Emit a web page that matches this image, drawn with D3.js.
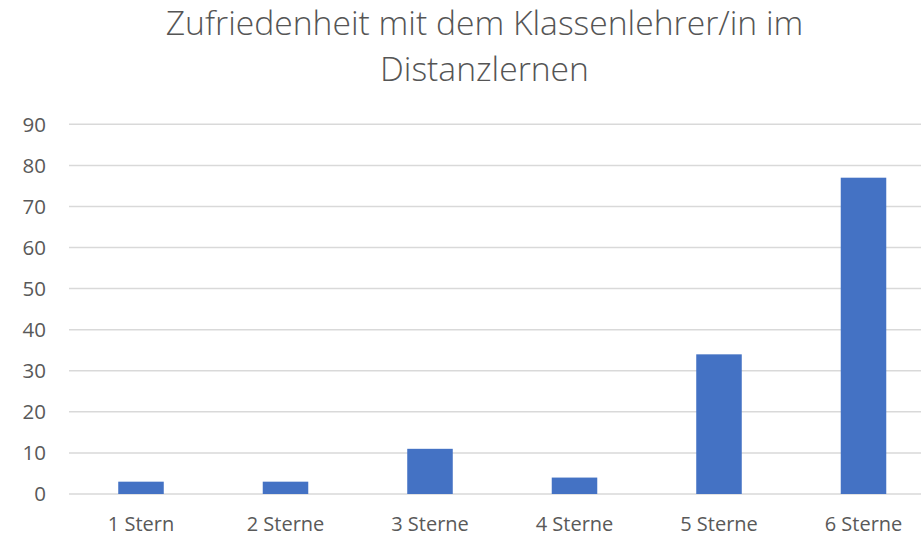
<!DOCTYPE html>
<html><head><meta charset="utf-8">
<script src="https://cdn.jsdelivr.net/npm/d3@7"></script>
<style>html,body{margin:0;padding:0;background:#fff;overflow:hidden}</style>
</head><body>
<svg id="chart" width="921" height="536"></svg>
<script>
const categories = ["1 Stern", "2 Sterne", "3 Sterne", "4 Sterne", "5 Sterne", "6 Sterne"];
const values = [3, 3, 11, 4, 34, 77];
const yTicks = [0, 10, 20, 30, 40, 50, 60, 70, 80, 90];
const titleLines = ["Zufriedenheit mit dem Klassenlehrer/in im", "Distanzlernen"];

const svg = d3.select("#chart");
const font = "'Open Sans', 'Noto Sans', sans-serif";
const x = d3.scaleBand().domain(categories).range([68.75, 935.75]).paddingInner(0.685).paddingOuter(0.3425);
const y = d3.scaleLinear().domain([0, 90]).range([494, 124.3]);

// gridlines
svg.append("g").selectAll("line").data(yTicks).join("line")
  .attr("x1", 69).attr("x2", 921)
  .attr("y1", d => y(d)).attr("y2", d => y(d))
  .attr("stroke", "#d9d9d9").attr("stroke-width", 1.5);

// y labels
svg.append("g").selectAll("text").data(yTicks).join("text")
  .attr("x", 46).attr("y", d => y(d)).attr("dy", "0.36em")
  .attr("text-anchor", "end").attr("font-family", font).attr("font-size", 20.5)
  .attr("fill", "#595959").text(d => d);

// bars
svg.append("g").selectAll("rect").data(values).join("rect")
  .attr("x", (d, i) => x(categories[i]))
  .attr("width", x.bandwidth())
  .attr("y", d => y(d))
  .attr("height", d => y(0) - y(d))
  .attr("fill", "#4472c4");

// x labels
svg.append("g").selectAll("text").data(categories).join("text")
  .attr("x", d => x(d) + x.bandwidth() / 2).attr("y", 530.5)
  .attr("text-anchor", "middle").attr("font-family", font).attr("font-size", 20)
  .attr("fill", "#595959").text(d => d);

// title
const title = svg.append("g").selectAll("text").data(titleLines).join("text")
  .attr("x", 484.5).attr("y", (d, i) => 35 + i * 46)
  .attr("text-anchor", "middle").attr("font-family", font).attr("font-weight", 300)
  .attr("font-size", 27).attr("fill", "#555555").text(d => d);
const w0 = title.node().getComputedTextLength();
const fs = 27 * 638 / w0;
title.attr("font-size", fs);
</script>
</body></html>
